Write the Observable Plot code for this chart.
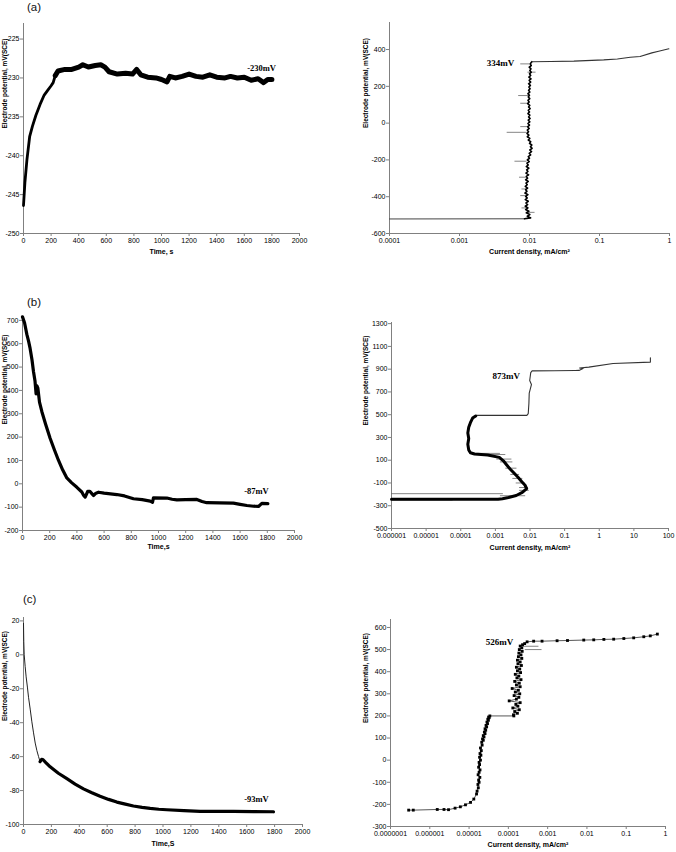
<!DOCTYPE html>
<html><head><meta charset="utf-8">
<script src="https://cdn.jsdelivr.net/npm/d3@7"></script>
<script src="https://cdn.jsdelivr.net/npm/@observablehq/plot@0.6"></script>
<style>
body{margin:0;background:#fff;}
#fig{position:relative;width:676px;height:852px;background:#fff;font-family:Arial,"Liberation Sans",sans-serif;overflow:hidden;}
.tag{position:absolute;font-size:11.5px;line-height:12px;color:#111;}
</style></head><body><div id="fig"></div>
<script>
// ---------- tick values ----------
const timeTicks = [0,200,400,600,800,1000,1200,1400,1600,1800,2000];
const aLeftYTicks = [-250,-245,-240,-235,-230,-225];
const aRightYTicks = [-600,-400,-200,0,200,400];
const aRightXTicks = [0.0001,0.001,0.01,0.1,1];
const bLeftYTicks = [-200,-100,0,100,200,300,400,500,600,700];
const bRightYTicks = [-500,-300,-100,100,300,500,700,900,1100,1300];
const bRightXTicks = [0.000001,0.00001,0.0001,0.001,0.01,0.1,1,10,100];
const cLeftYTicks = [-100,-80,-60,-40,-20,0,20];
const cRightYTicks = [-300,-200,-100,0,100,200,300,400,500,600];
const cRightXTicks = [0.0000001,0.000001,0.00001,0.0001,0.001,0.01,0.1,1];

// ---------- texts ----------
const panelTags = ["(a)","(b)","(c)"];
const yTitle = "Electrode potential, mV(SCE)";
const timeTitles = ["Time, s","Time,s","Time,S"];
const currentTitle = "Current density, mA/cm\u00B2";
const finalLabels = ["-230mV","-87mV","-93mV"];
const finalLabelT = [1725,1720,1670];
const finalLabelE = [-228.8,-33,-85];
const pitLabels = ["334mV","873mV","526mV"];
const pitLabelI = [0.00385,0.00206,0.0000594];
const pitLabelE = [324,839,532];

// ---------- (a) open circuit potential [t s, E mV] ----------
const aOcpRise = [[0,-246.4],[10,-243.5],[25,-240.5],[45,-237.5],[65,-236.2],[90,-234.8],[120,-233.4],[150,-232.2],[175,-231.6],[200,-231.0],[215,-230.6],[230,-229.7]];
const aOcpPlateau = [[230,-229.7],[250,-229.1],[300,-228.9],[350,-228.9],[400,-228.6],[430,-228.3],[470,-228.6],[520,-228.4],[560,-228.3],[590,-228.6],[620,-229.2],[680,-229.5],[740,-229.4],[790,-229.5],[820,-228.9],[850,-229.6],[900,-229.9],[960,-230.0],[1000,-230.2],[1040,-230.5],[1060,-229.8],[1100,-230.0],[1150,-229.8],[1200,-229.5],[1250,-229.8],[1300,-229.9],[1350,-229.6],[1400,-229.9],[1460,-230.0],[1500,-229.8],[1550,-230.0],[1600,-229.9],[1650,-230.3],[1700,-230.1],[1740,-230.6],[1770,-230.2],[1800,-230.2]];

// ---------- (a) polarization [i mA/cm2, E mV] ----------
const aPolBase = [[0.0001,-521],[0.0085,-520]];
const aPolPassive = [[0.0085,-520],[0.0104,-515],[0.0093,-506],[0.0101,-497],[0.0090,-488],[0.0098,-479],[0.0088,-470],[0.0095,-461],[0.0087,-452],[0.0094,-443],[0.0089,-434],[0.0096,-425],[0.0087,-416],[0.0093,-407],[0.0088,-398],[0.0095,-389],[0.0086,-380],[0.0092,-371],[0.0088,-362],[0.0094,-353],[0.0087,-344],[0.0093,-335],[0.0089,-326],[0.0096,-317],[0.0088,-308],[0.0094,-299],[0.0090,-290],[0.0097,-281],[0.0089,-272],[0.0095,-263],[0.0091,-254],[0.0098,-245],[0.0090,-236],[0.0096,-227],[0.0092,-218],[0.0099,-209],[0.0093,-200],[0.0100,-191],[0.0096,-182],[0.0104,-173],[0.0099,-164],[0.0107,-155],[0.0101,-146],[0.0109,-137],[0.0103,-128],[0.0108,-119],[0.0100,-110],[0.0104,-101],[0.0096,-92],[0.0101,-83],[0.0093,-74],[0.0098,-65],[0.0092,-56],[0.0097,-47],[0.0093,-38],[0.0099,-29],[0.0094,-20],[0.0100,-11],[0.0095,-2],[0.0101,7],[0.0096,16],[0.0102,25],[0.0097,34],[0.0101,43],[0.0095,52],[0.0100,61],[0.0096,70],[0.0102,79],[0.0097,88],[0.0101,97],[0.0094,106],[0.0099,115],[0.0095,124],[0.0101,133],[0.0096,142],[0.0100,151],[0.0095,160],[0.0101,169],[0.0097,178],[0.0102,187],[0.0098,196],[0.0103,205],[0.0097,214],[0.0104,223],[0.0099,232],[0.0105,241],[0.0098,250],[0.0104,259],[0.0100,268],[0.0106,277],[0.0101,286],[0.0105,295],[0.0099,304],[0.0106,313],[0.0102,322],[0.0108,334]];
const aPolPitting = [[0.0108,334],[0.02,335],[0.043,337],[0.115,344],[0.18,349],[0.275,358],[0.38,362],[0.56,382],[0.7,391],[0.98,404]];
const aSpikes = [[-485,0.0090,0.0120],[-461,0.0078,0.0092],[-394,0.0075,0.0090],[-358,0.0078,0.0092],[-294,0.0072,0.0090],[-207,0.0062,0.0092],[-50,0.0048,0.0092],[-19,0.0075,0.0095],[108,0.0075,0.0100],[150,0.0070,0.0100],[277,0.0095,0.0124],[322,0.0075,0.0100]];

// ---------- (b) open circuit potential ----------
const bOcp = [[0,715],[15,690],[32,640],[45,610],[56,580],[70,530],[81,480],[92,440],[100,385],[106,420],[113,410],[125,350],[142,310],[170,255],[203,195],[235,145],[265,100],[295,60],[326,25],[360,5],[400,-15],[436,-35],[450,-50],[461,-57],[470,-45],[480,-32],[495,-32],[510,-42],[522,-50],[540,-40],[559,-36],[600,-40],[694,-46],[750,-52],[816,-64],[880,-68],[939,-74],[956,-79],[963,-60],[1061,-61],[1100,-66],[1135,-69],[1200,-68],[1282,-67],[1320,-76],[1355,-81],[1450,-82],[1551,-83],[1600,-88],[1650,-93],[1700,-96],[1735,-97],[1760,-84],[1804,-85]];

// ---------- (b) polarization ----------
const bPol = [[0.000001,-243],[0.0012,-243],[0.0016,-238],[0.0024,-227],[0.0040,-210],[0.0060,-183],[0.0080,-150],[0.0072,-120],[0.0058,-90],[0.0045,-50],[0.0035,-15],[0.0027,20],[0.0021,60],[0.0017,95],[0.0013,125],[0.0006,145],[0.00025,155],[0.00019,165],[0.00017,190],[0.00016,240],[0.00017,290],[0.00016,340],[0.00017,390],[0.00019,430],[0.00022,470],[0.00027,488],[0.00028,494],[0.0081,494],[0.0089,510],[0.0093,600],[0.0095,690],[0.0110,765],[0.0098,800],[0.0102,840],[0.0105,870],[0.0115,885],[0.05,886],[0.2,888],[0.26,889],[0.34,905],[0.27,910],[0.5,918],[2.5,950],[30,962],[30,1000]];
const bSpikes = [[-250,0.000001,0.00006],[-194,0.000001,0.0017],[-212,0.0014,0.0075],[-165,0.0050,0.0095],[-140,0.0050,0.0090],[-100,0.0040,0.0072],[-60,0.0032,0.0062],[-25,0.0028,0.0050],[30,0.0020,0.0042],[85,0.0014,0.0032],[110,0.0011,0.0030],[150,0.00022,0.0020],[160,0.0002,0.0014]];

// ---------- (c) open circuit potential ----------
const cOcpStart = [[0,18.6],[2,8],[5,0],[12,-7],[19,-13],[28,-19],[36,-25],[48,-32],[60,-39.5],[72,-46],[84,-52],[96,-56.5],[108,-60],[119,-63]];
const cOcpRest = [[119,-63],[130,-61.6],[139,-61.7],[160,-63.5],[191,-66],[250,-69.8],[311,-73],[370,-76.2],[430,-79],[490,-81.3],[549,-83.4],[610,-85.2],[669,-86.8],[730,-88],[788,-89.1],[850,-89.9],[908,-90.5],[970,-91],[1027,-91.3],[1150,-91.8],[1266,-92.3],[1400,-92.3],[1505,-92.3],[1650,-92.4],[1792,-92.5]];

// ---------- (c) polarization ----------
const cPol = [[2.9e-7,-226],[3.8e-7,-226],[1.55e-6,-223],[2.3e-6,-223],[3.0e-6,-224],[4.4e-6,-217],[6.0e-6,-211],[8.1e-6,-202],[1.09e-5,-191],[1.32e-5,-176],[1.55e-5,-153],[1.6e-5,-140],[1.72e-5,-125],[1.68e-5,-110],[1.8e-5,-100],[1.75e-5,-90],[1.88e-5,-78],[1.7e-5,-66],[1.8e-5,-55],[1.9e-5,-44],[1.75e-5,-32],[1.85e-5,-20],[1.8e-5,-10],[1.95e-5,0],[1.85e-5,13],[2.0e-5,22],[1.9e-5,30],[2.05e-5,43],[1.95e-5,55],[2.15e-5,68],[2.1e-5,81],[2.3e-5,90],[2.2e-5,96],[2.4e-5,105],[2.3e-5,111],[2.55e-5,120],[2.45e-5,127],[2.65e-5,135],[2.55e-5,142],[2.8e-5,150],[2.7e-5,157],[2.95e-5,165],[2.85e-5,172],[3.1e-5,180],[3.0e-5,185],[3.25e-5,192],[3.15e-5,195],[3.38e-5,200],[1.38e-4,200],[1.35e-4,205],[1.7e-4,212],[1.45e-4,220],[1.9e-4,228],[1.3e-4,236],[1.75e-4,244],[1.55e-4,252],[2.0e-4,260],[1.05e-4,268],[1.6e-4,276],[1.85e-4,284],[1.4e-4,292],[1.95e-4,300],[1.5e-4,308],[1.8e-4,316],[1.25e-4,324],[2.0e-4,332],[1.6e-4,340],[1.9e-4,348],[1.45e-4,356],[2.1e-4,364],[1.65e-4,372],[1.85e-4,380],[1.5e-4,388],[2.05e-4,396],[1.7e-4,404],[1.95e-4,412],[1.6e-4,420],[2.15e-4,428],[1.75e-4,436],[2.0e-4,444],[1.7e-4,452],[2.2e-4,460],[1.8e-4,468],[2.1e-4,476],[1.85e-4,484],[2.25e-4,492],[1.9e-4,500],[2.2e-4,508],[2.0e-4,516],[2.3e-4,522],[2.6e-4,527],[3.0e-4,535],[4.4e-4,538],[7.2e-4,538],[1.74e-3,540],[3.2e-3,541],[8.3e-3,543],[1.49e-2,544],[2.7e-2,546],[4.8e-2,547],[8.7e-2,550],[0.155,553],[0.28,558],[0.41,562],[0.62,570]];
const cSpikes = [[500,0.00027,0.00072],[515,0.00024,0.00060]];

// ---------- drawing ----------
const fig = document.getElementById("fig");
const FONT = "Arial, 'Liberation Sans', sans-serif";
const SERIF = "'Liberation Serif', 'Times New Roman', serif";
const AX = "#808080";
const fmtLog = d => d >= 1 ? String(d) : d.toFixed(Math.round(-Math.log10(d)));

function makePanel(c){
  const chart = Plot.plot({
    width: c.width, height: c.height,
    marginLeft: c.x0 - c.left, marginRight: c.left + c.width - c.x1,
    marginTop: c.yT - c.top, marginBottom: c.top + c.height - c.yB,
    style: {background: "transparent", fontFamily: FONT, fontSize: "7px", color: "#000", overflow: "visible"},
    x: {type: c.xType, domain: c.xDomain},
    y: {type: "linear", domain: c.yDomain},
    marks: [
      Plot.ruleX([c.xDomain[0]], {stroke: AX}),
      Plot.ruleY([c.yDomain[0]], {stroke: AX}),
      Plot.axisX({ticks: c.xTicks, tickFormat: c.xType === "log" ? fmtLog : (d => String(d)), tickSize: 3, tickPadding: 2, stroke: AX, fill: "#000", fontSize: 7, label: null}),
      Plot.axisY({ticks: c.yTicks, tickFormat: d => String(d), tickSize: 3, tickPadding: 1, stroke: AX, fill: "#000", fontSize: 7, label: null}),
      ...c.marks,
      Plot.text([c.xTitle], {frameAnchor: "bottom", dy: c.xTitleDy, text: d => d, fontWeight: "bold", fontSize: 7, fill: "#000"}),
      Plot.text([yTitle], {frameAnchor: "left", dx: c.yTitleDx, rotate: -90, text: d => d, fontWeight: "bold", fontSize: 6.5, fill: "#000"})
    ]
  });
  chart.style.position = "absolute";
  chart.style.left = c.left + "px";
  chart.style.top = c.top + "px";
  fig.appendChild(chart);
}

const px = d => d[0], py = d => d[1];
const finalText = k => Plot.text([k], {x: i => finalLabelT[i], y: i => finalLabelE[i], text: i => finalLabels[i], fontFamily: SERIF, fontWeight: "bold", fontSize: 8.5, fill: "#000"});
const pitText = k => Plot.text([k], {x: i => pitLabelI[i], y: i => pitLabelE[i], text: i => pitLabels[i], fontFamily: SERIF, fontWeight: "bold", fontSize: 9, fill: "#000"});
const spikes = arr => Plot.ruleY(arr, {y: d => d[0], x1: d => d[1], x2: d => d[2], stroke: "#666", strokeWidth: 0.8});

// (a) left
makePanel({left: 0, top: 0, width: 338, height: 285, x0: 23, x1: 299, yT: 23, yB: 233,
  xType: "linear", xDomain: [0, 2000], yDomain: [-250, -223], xTicks: timeTicks, yTicks: aLeftYTicks,
  xTitle: timeTitles[0], xTitleDy: 20, yTitleDx: -19,
  marks: [Plot.line(aOcpRise, {x: px, y: py, stroke: "#000", strokeWidth: 2.8, strokeLinejoin: "round", strokeLinecap: "round"}),
    Plot.line(aOcpPlateau, {x: px, y: py, stroke: "#000", strokeWidth: 5, strokeLinejoin: "round", strokeLinecap: "round"}),
    finalText(0)]});

// (a) right
makePanel({left: 338, top: 0, width: 338, height: 285, x0: 389, x1: 669, yT: 22, yB: 233,
  xType: "log", xDomain: [0.0001, 1], yDomain: [-600, 547], xTicks: aRightXTicks, yTicks: aRightYTicks,
  xTitle: currentTitle, xTitleDy: 20, yTitleDx: -24,
  marks: [spikes(aSpikes),
    Plot.line(aPolBase, {x: px, y: py, stroke: "#444", strokeWidth: 1}),
    Plot.line(aPolPassive, {x: px, y: py, stroke: "#000", strokeWidth: 1.6}),
    Plot.line(aPolPitting, {x: px, y: py, stroke: "#333", strokeWidth: 1.1}),
    pitText(0)]});

// (b) left
makePanel({left: 0, top: 285, width: 338, height: 285, x0: 22, x1: 294, yT: 318, yB: 530,
  xType: "linear", xDomain: [0, 2000], yDomain: [-200, 708], xTicks: timeTicks, yTicks: bLeftYTicks,
  xTitle: timeTitles[1], xTitleDy: 18, yTitleDx: -18,
  marks: [Plot.line(bOcp, {x: px, y: py, stroke: "#000", strokeWidth: 3.2, strokeLinejoin: "round", strokeLinecap: "round"}), finalText(1)]});

// (b) right
makePanel({left: 338, top: 285, width: 338, height: 285, x0: 391, x1: 668, yT: 322, yB: 528,
  xType: "log", xDomain: [0.000001, 100], yDomain: [-500, 1310], xTicks: bRightXTicks, yTicks: bRightYTicks,
  xTitle: currentTitle, xTitleDy: 21, yTitleDx: -26,
  marks: [spikes(bSpikes),
    Plot.line(bPol, {x: px, y: py, stroke: "#333", strokeWidth: 1.1}),
    Plot.line(bPol.filter(d => d[1] < 494), {x: px, y: py, stroke: "#000", strokeWidth: 3}),
    pitText(1)]});

// (c) left
makePanel({left: 0, top: 570, width: 338, height: 282, x0: 23, x1: 302, yT: 617, yB: 824,
  xType: "linear", xDomain: [0, 2000], yDomain: [-100, 22], xTicks: timeTicks, yTicks: cLeftYTicks,
  xTitle: timeTitles[2], xTitleDy: 21, yTitleDx: -19,
  marks: [Plot.line(cOcpStart, {x: px, y: py, stroke: "#222", strokeWidth: 1}),
    Plot.line(cOcpRest, {x: px, y: py, stroke: "#000", strokeWidth: 3.2, strokeLinejoin: "round", strokeLinecap: "round"}),
    finalText(2)]});

// (c) right
makePanel({left: 338, top: 570, width: 338, height: 282, x0: 390, x1: 665, yT: 619, yB: 826,
  xType: "log", xDomain: [0.0000001, 1], yDomain: [-300, 636], xTicks: cRightXTicks, yTicks: cRightYTicks,
  xTitle: currentTitle, xTitleDy: 20, yTitleDx: -25,
  marks: [spikes(cSpikes),
    Plot.line(cPol, {x: px, y: py, stroke: "#444", strokeWidth: 0.9}),
    Plot.dot(cPol, {x: px, y: py, symbol: "square", r: 1.6, fill: "#000", stroke: "none"}),
    pitText(2)]});

// panel tags
const tagPos = [[27, 1], [27, 296], [23, 593]];
panelTags.forEach((t, i) => {
  const d = document.createElement("div");
  d.className = "tag";
  d.textContent = t;
  d.style.left = tagPos[i][0] + "px";
  d.style.top = tagPos[i][1] + "px";
  fig.appendChild(d);
});
</script></body></html>
